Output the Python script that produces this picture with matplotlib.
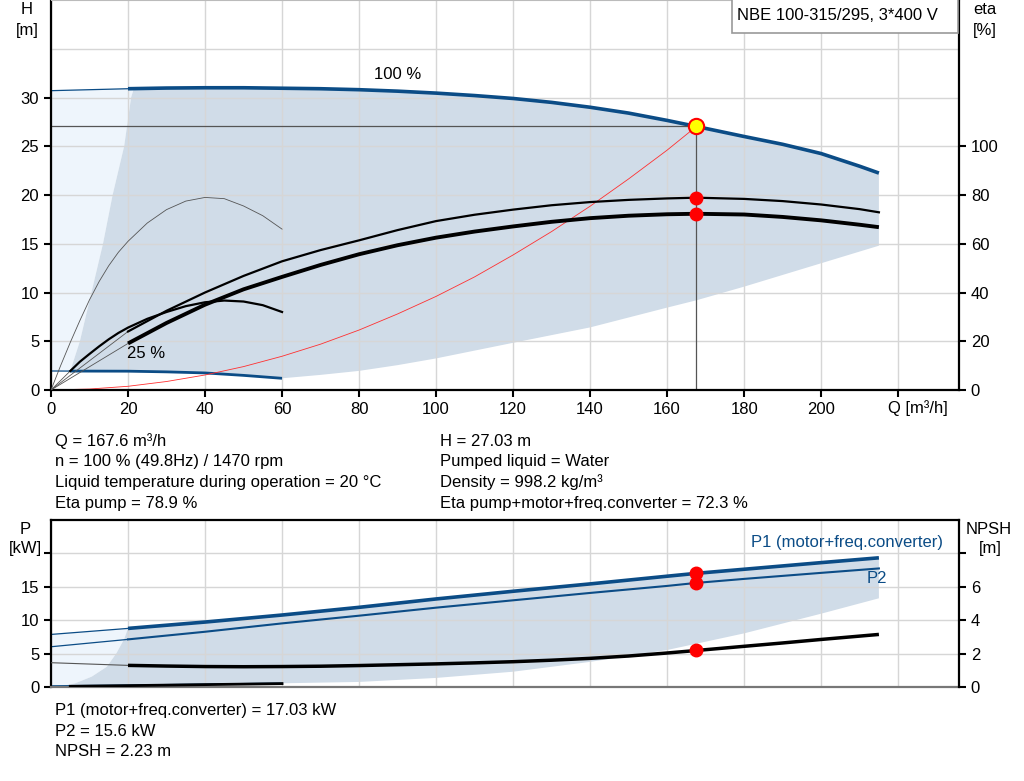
import numpy as np
import matplotlib.pyplot as plt
from matplotlib.patches import Rectangle

plt.rcParams['font.family'] = ['Liberation Sans', 'DejaVu Sans']
plt.rcParams['font.size'] = 12

BLUE = '#0b4c86'
FILL = '#d0dce8'
LIGHT = '#eef5fc'
GRID = '#d6d6d6'

# ---- head curves, Q [m3/h], H [m] ----
q_h100 = [20, 30, 40, 50, 60, 70, 80, 90, 100, 110, 120, 130, 140, 150, 160, 167.6,
          180, 190, 200, 210, 215]
h_100 = [30.9, 30.97, 31.0, 31.0, 30.95, 30.9, 30.8, 30.65, 30.45, 30.2, 29.9, 29.5,
         29.0, 28.4, 27.65, 27.03, 26.0, 25.2, 24.25, 22.95, 22.25]
q_h100_ext = [0, 20]
h_100_ext = [30.7, 30.9]

q_h25 = [5, 20, 30, 40, 50, 60]
h_25 = [1.94, 1.93, 1.86, 1.75, 1.5, 1.2]
q_h25_ext = [0, 5]
h_25_ext = [1.95, 1.94]

# edges of the operating area
q_minflow = [5, 7.5, 10.5, 13.5, 16, 19, 20.8, 21.5]
h_minflow = [1.94, 5, 10, 15, 20, 25, 30, 30.9]
q_lower = [60, 70, 80, 90, 100, 120, 140, 160, 167.6, 180, 200, 215]
h_lower = [1.2, 1.55, 1.96, 2.55, 3.24, 4.84, 6.42, 8.45, 9.2, 10.6, 13.0, 14.8]

# system curve
q_sys = [0, 10, 20, 30, 40, 50, 60, 70, 80, 90, 100, 110, 120, 130, 140, 150, 160, 167.6]
h_sys = [0, 0.1, 0.38, 0.87, 1.54, 2.4, 3.46, 4.7, 6.15, 7.8, 9.6, 11.6, 13.85, 16.25,
         18.85, 21.65, 24.6, 27.03]

# ---- efficiency curves [%] ----
q_eta = [20, 30, 40, 50, 60, 70, 80, 90, 100, 110, 120, 130, 140, 150, 160, 167.6,
         180, 190, 200, 210, 215]
eta_pump = [24, 32.5, 40.0, 46.8, 52.8, 57.4, 61.4, 65.6, 69.3, 71.9, 74.0, 75.8, 77.1,
            78.0, 78.6, 78.9, 78.4, 77.5, 76.1, 74.2, 72.9]
eta_tot = [19.1, 27.5, 35.0, 41.3, 46.4, 51.3, 55.7, 59.4, 62.5, 65.0, 67.1, 69.0, 70.5,
           71.5, 72.1, 72.3, 72.0, 71.0, 69.6, 67.8, 66.8]

q_eta25 = [0, 2.5, 5, 7.5, 10, 12.5, 15, 17.5, 20, 25, 30, 35, 40, 45, 50, 55, 60]
eta_pump25 = [0, 10, 19.5, 28.5, 37, 44.5, 51, 56.5, 61, 68.5, 74, 77.5, 79, 78.5, 75.5,
              71.5, 66]
q_eta_tot25 = [5, 7.5, 10, 12.5, 15, 17.5, 20, 25, 30, 35, 40, 45, 50, 55, 60]
eta_tot25 = [7.8, 11.6, 14.8, 17.9, 20.8, 23.4, 25.6, 29.2, 32, 34.4, 36, 36.7, 36.3,
             34.8, 32]

# ---- power [kW] and NPSH [m] ----
q_p = [20, 40, 60, 80, 100, 120, 140, 160, 167.6, 180, 200, 215]
p1 = [8.8, 9.75, 10.8, 11.95, 13.2, 14.35, 15.45, 16.6, 17.03, 17.64, 18.63, 19.35]
p2 = [7.16, 8.3, 9.55, 10.7, 11.9, 13.0, 14.1, 15.15, 15.6, 16.2, 17.1, 17.76]
q_npsh = [20, 30, 40, 50, 60, 70, 80, 90, 100, 110, 120, 130, 140, 150, 160, 167.6,
          180, 190, 200, 210, 215]
npsh = [1.31, 1.27, 1.24, 1.23, 1.24, 1.26, 1.3, 1.35, 1.4, 1.46, 1.53, 1.62, 1.73,
        1.87, 2.05, 2.2, 2.45, 2.65, 2.86, 3.06, 3.16]
q_p_ext = [0, 20]
p1_ext = [7.9, 8.8]
p2_ext = [6.06, 7.16]
npsh_ext = [1.47, 1.31]

q_p25 = [0, 20, 40, 60]
p1_25 = [0.19, 0.3, 0.45, 0.6]
q_npsh25 = [5, 20, 40, 60]
npsh_25 = [0.06, 0.1, 0.16, 0.22]

q_pmin = [3, 6.3, 10.6, 14.5, 17, 19, 20]
p_pmin = [0.2, 0.6, 1.6, 3.07, 5.1, 7.2, 8.8]
q_plow = [60, 80, 100, 120, 140, 160, 180, 200, 215]
p_plow = [0.6, 0.8, 1.4, 2.33, 3.8, 5.57, 8.06, 11.0, 13.3]

# duty point
q_op = 167.6
h_op = 27.03
eta_pump_op = 78.9
eta_tot_op = 72.3
p1_op = 17.03
p2_op = 15.6
npsh_op = 2.23

W, H = 1024, 781
def fx(x):
    return x / W
def fy(y):
    return 1 - y / H

fig = plt.figure(figsize=(W / 100, H / 100), dpi=100)

ax1 = fig.add_axes([fx(51), fy(390), fx(908), 390 / H])
ax2 = fig.add_axes([fx(51), fy(687.3), fx(908), (687.3 - 520) / H])

xmax = 235.8
for ax in (ax1, ax2):
    ax.set_xlim(0, xmax)
    ax.set_xticks(np.arange(0, 221, 20))
    ax.grid(True, color=GRID, lw=1)
    ax.set_axisbelow(True)

# ---------- top panel ----------
ax1.set_ylim(0, 40)
ax1.set_yticks(np.arange(0, 31, 5))
ax1.axhline(35, color=GRID, lw=1, zorder=0.5)
ax1.set_xticklabels([str(v) for v in range(0, 201, 20)] + [''])

light = np.array([[0, h_25_ext[0]], [0, h_100_ext[0]], [q_h100_ext[1], h_100_ext[1]]]
                 + list(zip(q_minflow[::-1], h_minflow[::-1])))
ax1.fill(light[:, 0], light[:, 1], color=LIGHT, lw=0, zorder=0.2)

top = [(q, h) for q, h in zip(q_h100, h_100) if q > q_minflow[-1]]
dark = np.array(list(zip(q_minflow, h_minflow)) + top
                + list(zip(q_lower[::-1], h_lower[::-1]))
                + list(zip(q_h25[::-1], h_25[::-1])))
ax1.fill(dark[:, 0], dark[:, 1], color=FILL, lw=0, zorder=0.3)

ax1.plot(q_h100_ext, h_100_ext, color=BLUE, lw=0.9)
ax1.plot(q_h100, h_100, color=BLUE, lw=2.6, solid_capstyle='butt')
ax1.plot(q_h25_ext, h_25_ext, color=BLUE, lw=0.9)
ax1.plot(q_h25, h_25, color=BLUE, lw=2.0, solid_capstyle='butt')
ax1.plot(q_sys, h_sys, color='#ff3030', lw=0.6)
ax1.plot([0, q_op], [h_op, h_op], color='#555555', lw=0.9)
ax1.plot([q_op, q_op], [0, h_op], color='#555555', lw=0.9)

ax1.text(84, 32.4, '100 %', va='center', ha='left')
ax1.text(19.7, 3.7, '25 %', va='center', ha='left')

for s in ['left', 'bottom']:
    ax1.spines[s].set_linewidth(1.6)
ax1.spines['top'].set_color('#bbbbbb')
ax1.spines['right'].set_visible(False)
ax1.tick_params(axis='both', direction='out', length=5, width=1.5, colors='black')

eta = ax1.twinx()
eta.set_ylim(0, 160)
eta.set_yticks(np.arange(0, 101, 20))
eta.spines['right'].set_linewidth(1.6)
eta.spines['top'].set_visible(False)
eta.spines['left'].set_visible(False)
eta.spines['bottom'].set_visible(False)
eta.tick_params(axis='y', direction='out', length=5, width=1.5)

eta.plot([0, q_eta[0]], [0, eta_pump[0]], color='#555555', lw=0.6)
eta.plot([0, q_eta[0]], [0, eta_tot[0]], color='#555555', lw=0.6)
eta.plot([0, q_eta_tot25[0]], [0, eta_tot25[0]], color='#555555', lw=0.6)
eta.plot(q_eta25, eta_pump25, color='#555555', lw=0.6)
eta.plot(q_eta_tot25, eta_tot25, color='black', lw=1.6)
eta.plot(q_eta, eta_pump, color='black', lw=1.6)
eta.plot(q_eta, eta_tot, color='black', lw=2.8, solid_capstyle='butt')
eta.plot([q_op, q_op], [eta_pump_op, eta_tot_op], 'o', color='red', ms=9, zorder=5)
eta.plot([q_op], [h_op * 4], 'o', mfc='yellow', mec='red', mew=1.5, ms=11, zorder=6)

# ---------- bottom panel ----------
ax2.set_ylim(0, 25)
ax2.set_yticks(np.arange(0, 21, 5))
ax2.set_yticklabels(['0', '5', '10', '15', ''])
ax2.set_xticklabels([])
ax2.tick_params(axis='x', length=0)
ax2.tick_params(axis='y', direction='out', length=5, width=1.5)
for s in ['left', 'top']:
    ax2.spines[s].set_linewidth(1.6)
ax2.spines['bottom'].set_color('#777777')
ax2.spines['bottom'].set_linewidth(1.6)
ax2.spines['right'].set_visible(False)

light2 = np.array([[0, p1_25[0]], [0, p1_ext[0]], [q_p_ext[1], p1_ext[1]]]
                  + list(zip(q_pmin[::-1], p_pmin[::-1])))
ax2.fill(light2[:, 0], light2[:, 1], color=LIGHT, lw=0, zorder=0.2)
top2 = [(q, p) for q, p in zip(q_p, p1) if q > q_pmin[-1]]
dark2 = np.array(list(zip(q_pmin, p_pmin)) + top2
                 + list(zip(q_plow[::-1], p_plow[::-1]))
                 + [(q, p) for q, p in zip(q_p25[::-1], p1_25[::-1]) if q > q_pmin[0]])
ax2.fill(dark2[:, 0], dark2[:, 1], color=FILL, lw=0, zorder=0.3)

ax2.plot(q_p_ext, p1_ext, color=BLUE, lw=0.9)
ax2.plot(q_p_ext, p2_ext, color=BLUE, lw=0.9)
ax2.plot(q_p, p1, color=BLUE, lw=2.6, solid_capstyle='butt')
ax2.plot(q_p, p2, color=BLUE, lw=1.5)
ax2.plot(q_p25, p1_25, color=BLUE, lw=1.2)
ax2.plot([q_op, q_op], [p1_op, p2_op], 'o', color='red', ms=9, zorder=5)
ax2.text(181.8, 21.6, 'P1 (motor+freq.converter)', color=BLUE, va='center', ha='left')
ax2.text(211.7, 16.3, 'P2', color=BLUE, va='center', ha='left')

npx = ax2.twinx()
npx.set_ylim(0, 10)
npx.set_yticks(np.arange(0, 9, 2))
npx.set_yticklabels(['0', '2', '4', '6', ''])
npx.spines['right'].set_linewidth(1.6)
for s in ['top', 'left', 'bottom']:
    npx.spines[s].set_visible(False)
npx.tick_params(axis='y', direction='out', length=5, width=1.5)
npx.plot(q_p_ext, npsh_ext, color='#555555', lw=0.8)
npx.plot(q_npsh, npsh, color='black', lw=2.5, solid_capstyle='butt')
npx.plot(q_npsh25, npsh_25, color='black', lw=2.0)
npx.plot([q_op], [npsh_op], 'o', color='red', ms=9, zorder=5)

# ---------- axis titles and texts ----------
fig.text(fx(27), fy(10), 'H', ha='center', va='center')
fig.text(fx(27), fy(30), '[m]', ha='center', va='center')
fig.text(fx(985), fy(10), 'eta', ha='center', va='center')
fig.text(fx(985), fy(30), '[%]', ha='center', va='center')
fig.text(fx(25), fy(529), 'P', ha='center', va='center')
fig.text(fx(25), fy(549), '[kW]', ha='center', va='center')
fig.text(fx(989), fy(530), 'NPSH', ha='center', va='center')
fig.text(fx(990), fy(549), '[m]', ha='center', va='center')
fig.text(fx(888), fy(408), 'Q [m³/h]', ha='left', va='center')

fig.patches.append(Rectangle((fx(732), fy(33)), fx(226), 34 / H, transform=fig.transFigure,
                             facecolor='white', edgecolor='#999999', lw=1.2, zorder=10))
fig.text(fx(737), fy(15), 'NBE 100-315/295, 3*400 V', ha='left', va='center', zorder=11)

left_lines = ['Q = 167.6 m³/h', 'n = 100 % (49.8Hz) / 1470 rpm',
              'Liquid temperature during operation = 20 °C', 'Eta pump = 78.9 %']
right_lines = ['H = 27.03 m', 'Pumped liquid = Water', 'Density = 998.2 kg/m³',
               'Eta pump+motor+freq.converter = 72.3 %']
rows = [441, 461.5, 482.5, 503.5]
for t, y in zip(left_lines, rows):
    fig.text(fx(55), fy(y), t, ha='left', va='center')
for t, y in zip(right_lines, rows):
    fig.text(fx(440), fy(y), t, ha='left', va='center')

bottom_lines = ['P1 (motor+freq.converter) = 17.03 kW', 'P2 = 15.6 kW', 'NPSH = 2.23 m']
for t, y in zip(bottom_lines, [711, 731.5, 752]):
    fig.text(fx(55), fy(y), t, ha='left', va='center')

fig.savefig('out.png', dpi=100)
